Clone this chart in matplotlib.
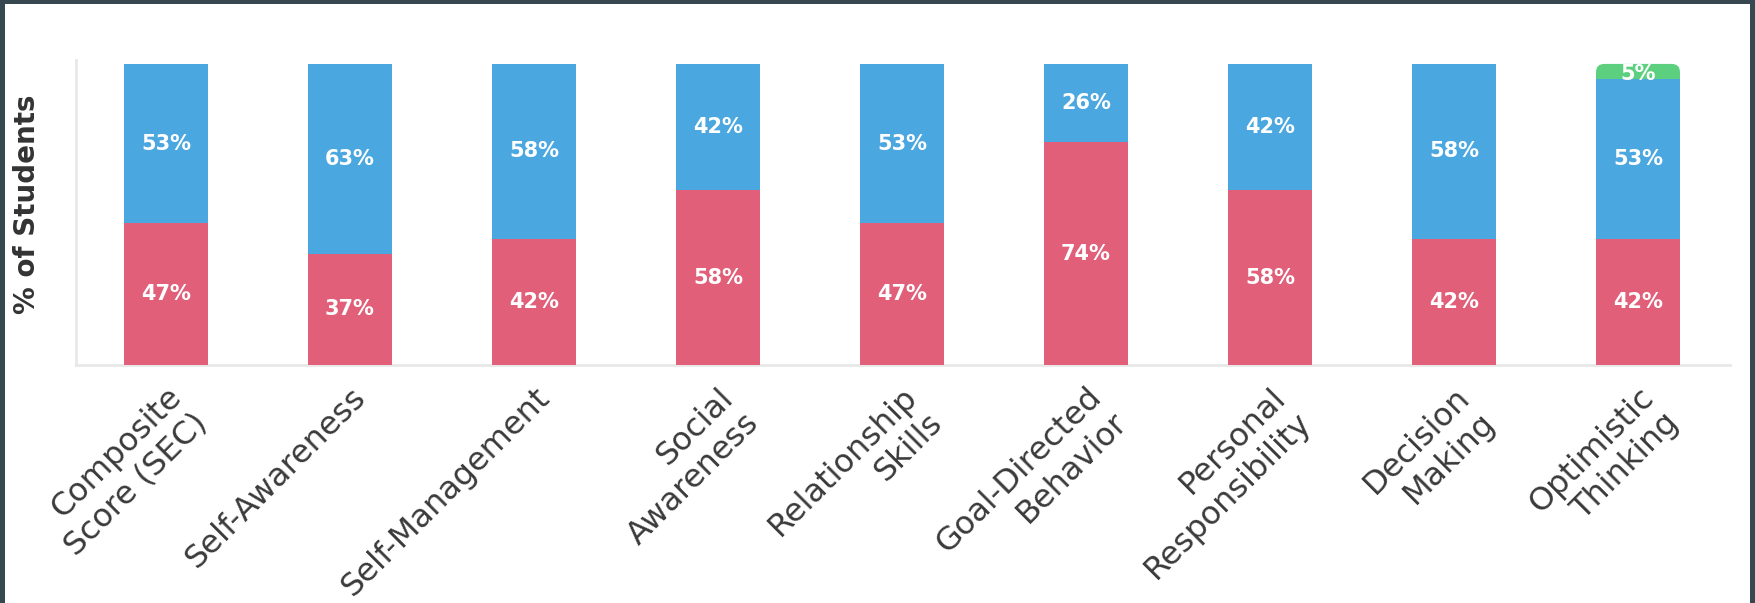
import matplotlib.pyplot as plt
from matplotlib.patches import Rectangle, FancyBboxPatch
import numpy as np

categories = ["Composite\nScore (SEC)", "Self-Awareness", "Self-Management",
              "Social\nAwareness", "Relationship\nSkills", "Goal-Directed\nBehavior",
              "Personal\nResponsibility", "Decision\nMaking", "Optimistic\nThinking"]
red_pct = [47, 37, 42, 58, 47, 74, 58, 42, 42]
blue_pct = [53, 63, 58, 42, 53, 26, 42, 58, 53]
green_pct = [0, 0, 0, 0, 0, 0, 0, 0, 5]

RED = "#e15f79"
BLUE = "#4aa7df"
GREEN = "#5dd07f"
FRAME = "#37474f"

fig = plt.figure(figsize=(17.55, 6.03), dpi=100, facecolor=FRAME)
# white card inside the dark frame
fig.patches.append(Rectangle((5 / 1755, 0), 1745 / 1755, 599 / 603,
                             transform=fig.transFigure, facecolor="white",
                             edgecolor="none", zorder=0))

ax = fig.add_axes([76 / 1755, 238 / 603, 1654 / 1755, 305 / 603])
ax.set_facecolor("none")
ax.set_zorder(2)

x = np.arange(len(categories))
w = 0.4565
red = np.array(red_pct)
blue = np.array(blue_pct)
green = np.array(green_pct)

ax.bar(x, red, w, color=RED, zorder=3)
ax.bar(x, blue, w, bottom=red, color=BLUE, zorder=3)

# green caps get rounded top corners; the lower part hides behind the blue
for xi, g, b in zip(x, green, red + blue):
    if g > 0:
        ax.add_patch(FancyBboxPatch((xi - w / 2, b - 4), w, g + 4,
                                    boxstyle="round,pad=0,rounding_size=0.045",
                                    mutation_aspect=61, facecolor=GREEN,
                                    edgecolor="none", zorder=2))

lbl = dict(ha="center", va="center", color="white", fontsize=15,
           fontweight="bold", zorder=4)
for xi, r, b, g in zip(x, red, blue, green):
    ax.text(xi, r / 2, f"{r}%", **lbl)
    ax.text(xi, r + b / 2, f"{b}%", **lbl)
    if g > 0:
        ax.text(xi, r + b + g / 2 - 1, f"{g}%", **lbl)

ax.set_xlim(-0.489, 8.5)
ax.set_ylim(0, 101.3)
ax.set_yticks([])
ax.set_xticks(x)
ax.set_xticklabels(categories, fontsize=23, color="#3a3a3a")
plt.setp(ax.get_xticklabels(), rotation=45, ha="right", va="top",
         rotation_mode="anchor", multialignment="right")
ax.tick_params(axis="x", length=0, pad=12)

for s in ["top", "right"]:
    ax.spines[s].set_visible(False)
for s in ["left", "bottom"]:
    ax.spines[s].set_color("#e8e8e8")
    ax.spines[s].set_linewidth(2)

fig.text(27 / 1755, 0.662, "% of Students", rotation=90, ha="center",
         va="center", fontsize=20, fontweight="bold", color="#333333")

fig.savefig("out.png", dpi=100, facecolor=FRAME)
